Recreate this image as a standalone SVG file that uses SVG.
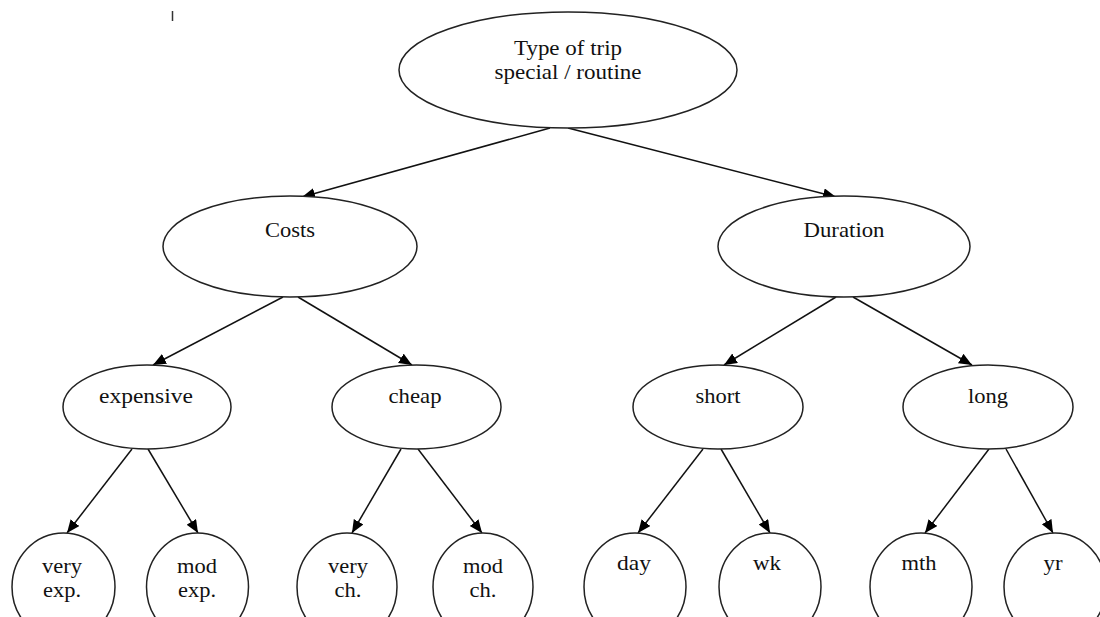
<svg xmlns="http://www.w3.org/2000/svg" width="1100" height="617" viewBox="0 0 1100 617">
<defs>
<style>
.n ellipse{fill:#fff;stroke:#222;stroke-width:1.5}
.n text{font-family:"Liberation Serif","Times New Roman",serif;font-size:21px;fill:#111;text-anchor:middle}
.e line{stroke:#111;stroke-width:1.5;marker-end:url(#ah)}
</style>
<marker id="ah" markerUnits="userSpaceOnUse" markerWidth="14" markerHeight="12" refX="13" refY="5.5" orient="auto">
<path d="M0,0 L13,5.5 L0,11 z" fill="#000"/>
</marker>
</defs>
<rect width="1100" height="617" fill="#fff"/>
<line x1="172.5" y1="11" x2="172.5" y2="21" stroke="#333" stroke-width="1.5"/>
<g id="edges" class="e">
<line x1="550" y1="128" x2="302" y2="197"/>
<line x1="568" y1="128" x2="836" y2="197"/>
<line x1="283" y1="297" x2="153" y2="365"/>
<line x1="298" y1="297" x2="412" y2="365"/>
<line x1="836" y1="297" x2="724" y2="365"/>
<line x1="853" y1="297" x2="972" y2="365"/>
<line x1="132" y1="449" x2="67" y2="533"/>
<line x1="148" y1="449" x2="198" y2="533"/>
<line x1="401" y1="449" x2="352" y2="533"/>
<line x1="418" y1="449" x2="482" y2="533"/>
<line x1="703" y1="449" x2="638" y2="533"/>
<line x1="721" y1="449" x2="770" y2="533"/>
<line x1="989" y1="449" x2="925" y2="533"/>
<line x1="1006" y1="449" x2="1053" y2="533"/>
</g>
<g id="root" class="n"><ellipse cx="568" cy="70" rx="169" ry="58"/><text x="568" y="55" textLength="108" lengthAdjust="spacingAndGlyphs">Type of trip</text><text x="568" y="79" textLength="147" lengthAdjust="spacingAndGlyphs">special / routine</text></g>
<g id="costs" class="n"><ellipse cx="290" cy="246.5" rx="127" ry="50.5"/><text x="290" y="237" textLength="50" lengthAdjust="spacingAndGlyphs">Costs</text></g>
<g id="duration" class="n"><ellipse cx="844" cy="246.5" rx="126" ry="50.5"/><text x="844" y="237" textLength="81" lengthAdjust="spacingAndGlyphs">Duration</text></g>
<g id="expensive" class="n"><ellipse cx="147" cy="407" rx="84" ry="42"/><text x="146" y="403" textLength="94" lengthAdjust="spacingAndGlyphs">expensive</text></g>
<g id="cheap" class="n"><ellipse cx="416.5" cy="407" rx="84.5" ry="42"/><text x="415" y="403" textLength="53" lengthAdjust="spacingAndGlyphs">cheap</text></g>
<g id="short" class="n"><ellipse cx="718" cy="407" rx="85" ry="42"/><text x="718" y="403" textLength="45" lengthAdjust="spacingAndGlyphs">short</text></g>
<g id="long" class="n"><ellipse cx="988" cy="407" rx="85" ry="42"/><text x="988" y="403" textLength="40" lengthAdjust="spacingAndGlyphs">long</text></g>
<g id="very-exp" class="n"><ellipse cx="63.5" cy="587" rx="51.5" ry="54"/><text x="62" y="573" textLength="40" lengthAdjust="spacingAndGlyphs">very</text><text x="62" y="597" textLength="38" lengthAdjust="spacingAndGlyphs">exp.</text></g>
<g id="mod-exp" class="n"><ellipse cx="197.5" cy="587" rx="51" ry="54"/><text x="197" y="573" textLength="40" lengthAdjust="spacingAndGlyphs">mod</text><text x="197" y="597" textLength="38" lengthAdjust="spacingAndGlyphs">exp.</text></g>
<g id="very-ch" class="n"><ellipse cx="347" cy="587" rx="50" ry="54"/><text x="348" y="573" textLength="40" lengthAdjust="spacingAndGlyphs">very</text><text x="348" y="597" textLength="27" lengthAdjust="spacingAndGlyphs">ch.</text></g>
<g id="mod-ch" class="n"><ellipse cx="483" cy="587" rx="50" ry="54"/><text x="483" y="573" textLength="40" lengthAdjust="spacingAndGlyphs">mod</text><text x="483" y="597" textLength="27" lengthAdjust="spacingAndGlyphs">ch.</text></g>
<g id="day" class="n"><ellipse cx="635" cy="587" rx="51" ry="54"/><text x="634" y="570" textLength="34" lengthAdjust="spacingAndGlyphs">day</text></g>
<g id="wk" class="n"><ellipse cx="770" cy="587" rx="51" ry="54"/><text x="767" y="570" textLength="28" lengthAdjust="spacingAndGlyphs">wk</text></g>
<g id="mth" class="n"><ellipse cx="921" cy="587" rx="51" ry="54"/><text x="919" y="570" textLength="35" lengthAdjust="spacingAndGlyphs">mth</text></g>
<g id="yr" class="n"><ellipse cx="1055" cy="587" rx="51" ry="54"/><text x="1053" y="570" textLength="19" lengthAdjust="spacingAndGlyphs">yr</text></g>
</svg>
